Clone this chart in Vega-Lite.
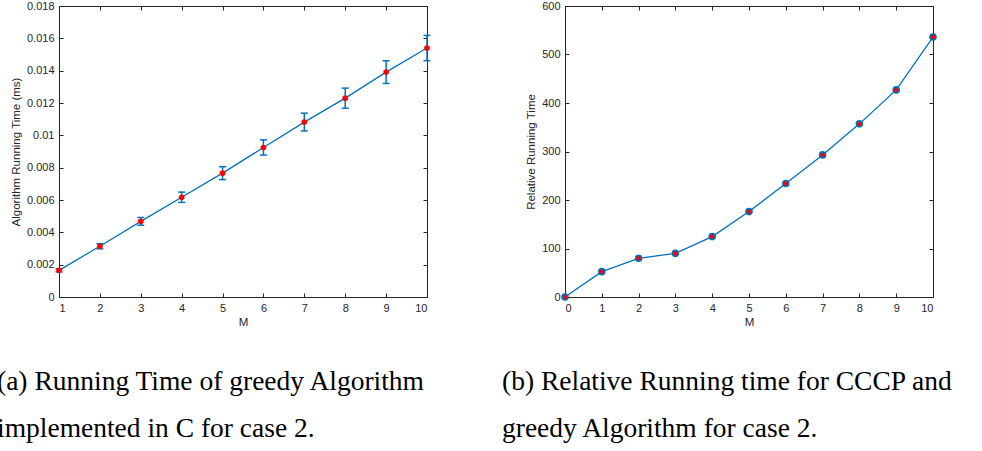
{
  "$schema": "https://vega.github.io/schema/vega-lite/v6.json",
  "padding": {"left": -4, "top": -1, "right": 5, "bottom": 5},
  "background": "white",
  "config": {
    "view": {"stroke": "#262626", "strokeWidth": 1},
    "axis": {
      "grid": false,
      "labelFont": "Liberation Sans",
      "labelFontSize": 11,
      "labelColor": "#262626",
      "titleFont": "Liberation Sans",
      "titleFontSize": 11.5,
      "titleFontWeight": "normal",
      "titleColor": "#262626",
      "domainColor": "#262626",
      "tickColor": "#262626",
      "tickSize": -4,
      "tickWidth": 1
    }
  },
  "hconcat": [
    {
      "width": 368,
      "height": 291,
      "title": {
        "text": ["(a) Running Time of greedy Algorithm", "implemented in C for case 2."],
        "orient": "bottom",
        "anchor": "start",
        "frame": "group",
        "dx": -62,
        "offset": 62,
        "font": "Liberation Serif",
        "fontSize": 27.5,
        "fontWeight": "normal",
        "color": "black",
        "lineHeight": 47,
        "baseline": "alphabetic"
      },
      "data": {
        "values": [
          {"M": 1, "t": 0.00165, "lo": 0.00155, "hi": 0.00175},
          {"M": 2, "t": 0.00314, "lo": 0.00298, "hi": 0.0033},
          {"M": 3, "t": 0.00468, "lo": 0.00444, "hi": 0.00492},
          {"M": 4, "t": 0.00617, "lo": 0.00585, "hi": 0.00649},
          {"M": 5, "t": 0.00766, "lo": 0.00726, "hi": 0.00806},
          {"M": 6, "t": 0.00925, "lo": 0.00878, "hi": 0.00972},
          {"M": 7, "t": 0.01082, "lo": 0.01027, "hi": 0.01137},
          {"M": 8, "t": 0.0123, "lo": 0.01168, "hi": 0.01292},
          {"M": 9, "t": 0.01391, "lo": 0.01321, "hi": 0.01461},
          {"M": 10, "t": 0.0154, "lo": 0.01462, "hi": 0.01618}
        ]
      },
      "layer": [
        {
          "encoding": {
            "x": {
              "field": "M", "type": "quantitative",
              "scale": {"domain": [1, 10], "nice": false, "zero": false},
              "axis": {"orient": "bottom", "title": "M", "format": "d", "values": [1,2,3,4,5,6,7,8,9,10], "labelPadding": 9, "titlePadding": 3}
            }
          },
          "layer": [
            {
              "mark": {"type": "rule", "color": "#0072BD", "strokeWidth": 1.5},
              "encoding": {
                "y": {"field": "lo", "type": "quantitative", "scale": {"domain": [0, 0.018], "nice": false, "zero": false},
                  "axis": {"orient": "left", "title": "Algorithm Running Time (ms)", "format": ".3~f", "values": [0,0.002,0.004,0.006,0.008,0.01,0.012,0.014,0.016,0.018], "labelPadding": 9, "titlePadding": 5}},
                "y2": {"field": "hi"}
              }
            },
            {
              "mark": {"type": "tick", "orient": "horizontal", "color": "#0072BD", "size": 7, "thickness": 1.5, "opacity": 1},
              "encoding": {
                "y": {"field": "lo", "type": "quantitative", "scale": {"domain": [0, 0.018], "nice": false, "zero": false},
                  "axis": {"orient": "left", "title": "Algorithm Running Time (ms)", "format": ".3~f", "values": [0,0.002,0.004,0.006,0.008,0.01,0.012,0.014,0.016,0.018], "labelPadding": 9, "titlePadding": 5}}
              }
            },
            {
              "mark": {"type": "tick", "orient": "horizontal", "color": "#0072BD", "size": 7, "thickness": 1.5, "opacity": 1},
              "encoding": {
                "y": {"field": "hi", "type": "quantitative", "scale": {"domain": [0, 0.018], "nice": false, "zero": false},
                  "axis": {"orient": "left", "title": "Algorithm Running Time (ms)", "format": ".3~f", "values": [0,0.002,0.004,0.006,0.008,0.01,0.012,0.014,0.016,0.018], "labelPadding": 9, "titlePadding": 5}}
              }
            },
            {
              "mark": {"type": "line", "color": "#0072BD", "strokeWidth": 1.3},
              "encoding": {
                "y": {"field": "t", "type": "quantitative", "scale": {"domain": [0, 0.018], "nice": false, "zero": false},
                  "axis": {"orient": "left", "title": "Algorithm Running Time (ms)", "format": ".3~f", "values": [0,0.002,0.004,0.006,0.008,0.01,0.012,0.014,0.016,0.018], "labelPadding": 9, "titlePadding": 5}}
              }
            },
            {
              "mark": {"type": "point", "filled": true, "fill": "#FF0000", "strokeWidth": 0, "size": 32, "opacity": 1},
              "encoding": {
                "y": {"field": "t", "type": "quantitative", "scale": {"domain": [0, 0.018], "nice": false, "zero": false},
                  "axis": {"orient": "left", "title": "Algorithm Running Time (ms)", "format": ".3~f", "values": [0,0.002,0.004,0.006,0.008,0.01,0.012,0.014,0.016,0.018], "labelPadding": 9, "titlePadding": 5}}
              }
            }
          ]
        },
        {
          "mark": {"type": "point", "opacity": 0},
          "encoding": {
            "x": {
              "field": "M", "type": "quantitative",
              "scale": {"domain": [1, 10], "nice": false, "zero": false},
              "axis": {"orient": "top", "title": null, "labels": false, "domain": false, "values": [1,2,3,4,5,6,7,8,9,10]}
            },
            "y": {
              "field": "t", "type": "quantitative",
              "scale": {"domain": [0, 0.018], "nice": false, "zero": false},
              "axis": {"orient": "right", "title": null, "labels": false, "domain": false, "values": [0,0.002,0.004,0.006,0.008,0.01,0.012,0.014,0.016,0.018]}
            }
          }
        }
      ],
      "resolve": {"axis": {"x": "independent", "y": "independent"}}
    },
    {
      "width": 368,
      "height": 291,
      "title": {
        "text": ["(b) Relative Running time for CCCP and", "greedy Algorithm for case 2."],
        "orient": "bottom",
        "anchor": "start",
        "frame": "group",
        "dx": -63,
        "offset": 62,
        "font": "Liberation Serif",
        "fontSize": 27.5,
        "fontWeight": "normal",
        "color": "black",
        "lineHeight": 47,
        "baseline": "alphabetic"
      },
      "data": {
        "values": [
          {"M": 0, "r": 0},
          {"M": 1, "r": 52.3},
          {"M": 2, "r": 79.8},
          {"M": 3, "r": 90.1},
          {"M": 4, "r": 124.5},
          {"M": 5, "r": 176.1},
          {"M": 6, "r": 234},
          {"M": 7, "r": 293},
          {"M": 8, "r": 357},
          {"M": 9, "r": 427},
          {"M": 10, "r": 536}
        ]
      },
      "layer": [
        {
          "encoding": {
            "x": {
              "field": "M", "type": "quantitative",
              "scale": {"domain": [0, 10], "nice": false, "zero": false},
              "axis": {"orient": "bottom", "title": "M", "format": "d", "values": [0,1,2,3,4,5,6,7,8,9,10], "labelPadding": 9, "titlePadding": 3}
            },
            "y": {
              "field": "r", "type": "quantitative",
              "scale": {"domain": [0, 600], "nice": false, "zero": false},
              "axis": {"orient": "left", "title": "Relative Running Time", "format": "d", "values": [0,100,200,300,400,500,600], "labelPadding": 9, "titlePadding": 5}
            }
          },
          "layer": [
            {"mark": {"type": "line", "color": "#0072BD", "strokeWidth": 1.3}},
            {"mark": {"type": "point", "filled": true, "fill": "#FF0000", "stroke": "#0072BD", "strokeWidth": 1.6, "size": 36, "opacity": 1}}
          ]
        },
        {
          "mark": {"type": "point", "opacity": 0},
          "encoding": {
            "x": {
              "field": "M", "type": "quantitative",
              "scale": {"domain": [0, 10], "nice": false, "zero": false},
              "axis": {"orient": "top", "title": null, "labels": false, "domain": false, "values": [0,1,2,3,4,5,6,7,8,9,10]}
            },
            "y": {
              "field": "r", "type": "quantitative",
              "scale": {"domain": [0, 600], "nice": false, "zero": false},
              "axis": {"orient": "right", "title": null, "labels": false, "domain": false, "values": [0,100,200,300,400,500,600]}
            }
          }
        }
      ],
      "resolve": {"axis": {"x": "independent", "y": "independent"}}
    }
  ],
  "spacing": 138,
  "bounds": "flush"
}
